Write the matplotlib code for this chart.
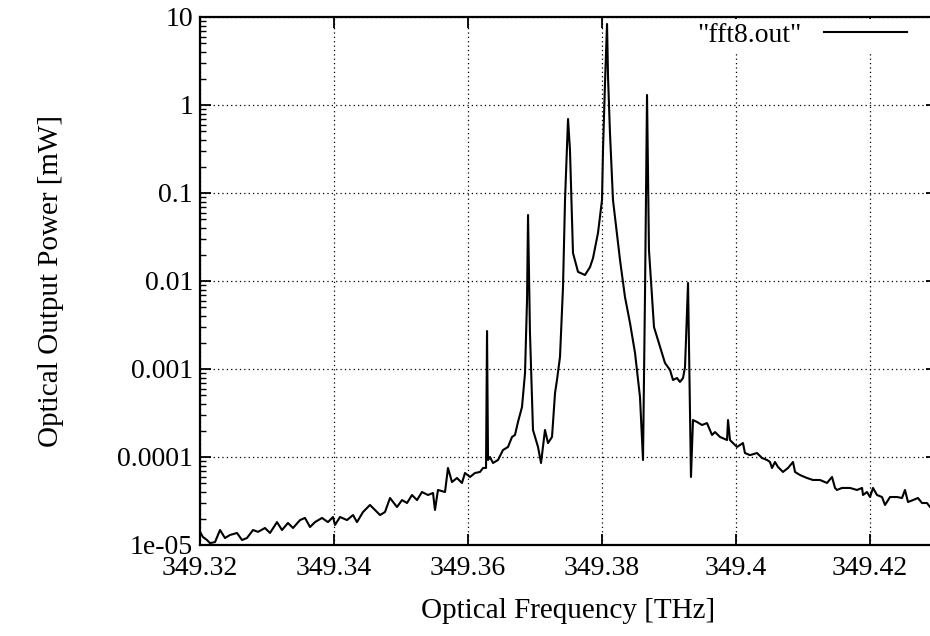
import numpy as np
import matplotlib.pyplot as plt
from matplotlib.ticker import FixedLocator, LogLocator, NullFormatter, NullLocator

plt.rcParams['font.family'] = ['Liberation Serif', 'DejaVu Serif']

# optical spectrum (THz, mW)
freq = [
    349.32000, 349.32045, 349.32104, 349.32149, 349.32224, 349.32299, 349.32373, 349.32448,
    349.32552, 349.32627, 349.32701, 349.32791, 349.32866, 349.32970, 349.33045, 349.33149,
    349.33224, 349.33313, 349.33388, 349.33493, 349.33567, 349.33642, 349.33716, 349.33821,
    349.33910, 349.33985, 349.34015, 349.34090, 349.34194, 349.34284, 349.34343, 349.34433,
    349.34537, 349.34612, 349.34687, 349.34761, 349.34836, 349.34940, 349.35015, 349.35090,
    349.35164, 349.35239, 349.35313, 349.35403, 349.35478, 349.35507, 349.35552, 349.35657,
    349.35701, 349.35761, 349.35836, 349.35910, 349.35955, 349.36030, 349.36104, 349.36179,
    349.36224, 349.36269, 349.36284, 349.36299, 349.36328, 349.36373, 349.36448, 349.36522,
    349.36597, 349.36657, 349.36701, 349.36746, 349.36806, 349.36851, 349.36881, 349.36896,
    349.36925, 349.36970, 349.37045, 349.37090, 349.37149, 349.37194, 349.37254, 349.37299,
    349.37328, 349.37373, 349.37418, 349.37448, 349.37493, 349.37522, 349.37552, 349.37567,
    349.37642, 349.37746, 349.37821, 349.37866, 349.37940, 349.38000, 349.38015, 349.38045,
    349.38075, 349.38090, 349.38119, 349.38164, 349.38269, 349.38343, 349.38418, 349.38493,
    349.38567, 349.38612, 349.38642, 349.38672, 349.38701, 349.38776, 349.38866, 349.38940,
    349.39015, 349.39060, 349.39119, 349.39164, 349.39209, 349.39239, 349.39284, 349.39328,
    349.39358, 349.39418, 349.39493, 349.39567, 349.39642, 349.39687, 349.39761, 349.39866,
    349.39881, 349.39910, 349.39955, 349.40015, 349.40104, 349.40134, 349.40209, 349.40313,
    349.40388, 349.40463, 349.40507, 349.40537, 349.40582, 349.40627, 349.40701, 349.40776,
    349.40851, 349.40881, 349.40955, 349.41060, 349.41149, 349.41254, 349.41358, 349.41433,
    349.41478, 349.41507, 349.41582, 349.41701, 349.41806, 349.41881, 349.41896, 349.41955,
    349.42000, 349.42045, 349.42104, 349.42179, 349.42224, 349.42299, 349.42403, 349.42478,
    349.42522, 349.42567, 349.42642, 349.42716, 349.42776, 349.42851, 349.42896, 349.42970,
]
power = [
    1.41e-5, 1.23e-5, 1.14e-5, 1.05e-5, 1.08e-5, 1.48e-5, 1.20e-5, 1.30e-5,
    1.37e-5, 1.14e-5, 1.20e-5, 1.48e-5, 1.41e-5, 1.56e-5, 1.37e-5, 1.82e-5,
    1.48e-5, 1.78e-5, 1.56e-5, 1.92e-5, 2.03e-5, 1.60e-5, 1.82e-5, 2.03e-5,
    1.82e-5, 2.08e-5, 1.69e-5, 2.08e-5, 1.92e-5, 2.19e-5, 1.82e-5, 2.37e-5,
    2.85e-5, 2.50e-5, 2.19e-5, 2.37e-5, 3.42e-5, 2.70e-5, 3.24e-5, 3.00e-5,
    3.70e-5, 3.24e-5, 4.00e-5, 3.70e-5, 3.90e-5, 2.50e-5, 4.22e-5, 4.00e-5,
    7.50e-5, 5.20e-5, 5.77e-5, 5.07e-5, 6.58e-5, 5.93e-5, 6.58e-5, 6.76e-5,
    7.50e-5, 7.50e-5, 2.70e-3, 9.25e-5, 1.00e-4, 8.55e-5, 9.25e-5, 1.20e-4,
    1.30e-4, 1.69e-4, 1.78e-4, 2.50e-4, 3.70e-4, 9.00e-4, 6.08e-3, 5.62e-2,
    2.57e-3, 2.03e-4, 1.30e-4, 8.55e-5, 2.03e-4, 1.44e-4, 1.69e-4, 5.34e-4,
    7.50e-4, 1.37e-3, 8.55e-3, 8.32e-2, 0.693, 0.308, 5.34e-2, 2.08e-2,
    1.27e-2, 1.17e-2, 1.44e-2, 1.82e-2, 3.51e-2, 8.32e-2, 0.308, 1.78,
    8.33, 2.08, 0.481, 8.32e-2, 1.73e-2, 6.58e-3, 3.33e-3, 1.52e-3,
    4.80e-4, 9.25e-5, 7.31e-3, 1.30, 2.25e-2, 3.00e-3, 1.78e-3, 1.17e-3,
    9.75e-4, 7.50e-4, 7.90e-4, 7.12e-4, 7.90e-4, 1.05e-3, 9.49e-3, 5.93e-5,
    2.63e-4, 2.50e-4, 2.31e-4, 2.43e-4, 1.78e-4, 1.92e-4, 1.69e-4, 1.56e-4,
    2.63e-4, 1.56e-4, 1.44e-4, 1.30e-4, 1.44e-4, 1.11e-4, 1.05e-4, 1.11e-4,
    9.75e-5, 9.25e-5, 8.78e-5, 7.50e-5, 8.78e-5, 7.70e-5, 6.76e-5, 7.50e-5,
    8.78e-5, 6.76e-5, 6.24e-5, 5.77e-5, 5.48e-5, 5.48e-5, 5.07e-5, 5.93e-5,
    4.45e-5, 4.22e-5, 4.45e-5, 4.45e-5, 4.22e-5, 4.45e-5, 3.70e-5, 4.00e-5,
    3.51e-5, 4.45e-5, 3.70e-5, 3.51e-5, 2.85e-5, 3.51e-5, 3.51e-5, 3.42e-5,
    4.22e-5, 3.08e-5, 3.24e-5, 3.42e-5, 3.00e-5, 3.00e-5, 2.70e-5, 2.85e-5,
]

xticks = [349.32, 349.34, 349.36, 349.38, 349.40, 349.42]
xtick_labels = ['349.32', '349.34', '349.36', '349.38', '349.4', '349.42']
yticks = [1e-5, 1e-4, 1e-3, 1e-2, 1e-1, 1, 10]
ytick_labels = ['1e-05', '0.0001', '0.001', '0.01', '0.1', '1', '10']

fig = plt.figure(figsize=(9.3, 6.36), dpi=100)
ax = fig.add_axes([200/930, 91/636, 737/930, 528/636])

ax.plot(freq, power, color='black', lw=1.5, label='"fft8.out"')

ax.set_yscale('log')
ax.set_xlim(349.32, 349.43)
ax.set_ylim(1e-5, 10)

ax.xaxis.set_major_locator(FixedLocator(xticks))
ax.set_xticklabels(xtick_labels)
ax.xaxis.set_minor_locator(NullLocator())
ax.yaxis.set_major_locator(FixedLocator(yticks))
ax.set_yticklabels(ytick_labels)
ax.yaxis.set_minor_locator(LogLocator(base=10, subs=np.arange(2, 10)))
ax.yaxis.set_minor_formatter(NullFormatter())

ax.tick_params(which='both', direction='in', top=True, right=True, labelsize=20)
ax.tick_params(which='major', length=8, width=1.3)
ax.tick_params(which='minor', length=4, width=1.0)
ax.tick_params(axis='x', pad=8)
ax.tick_params(axis='y', pad=5)

ax.grid(True, which='major', color='black', linestyle=(0, (1, 2.5)), linewidth=0.9)
for s in ax.spines.values():
    s.set_linewidth(1.6)

ax.set_xlabel('Optical Frequency [THz]', fontsize=21, labelpad=12)
ax.set_ylabel('Optical Output Power [mW]', fontsize=21, labelpad=38)

leg = ax.legend(loc='upper right', bbox_to_anchor=(0.965, 0.997), markerfirst=False,
                handlelength=3.0, handletextpad=0.8, fontsize=20, frameon=True,
                fancybox=False, borderaxespad=0.0, borderpad=0.15)
leg.get_frame().set_facecolor('white')
leg.get_frame().set_edgecolor('none')
leg.get_frame().set_alpha(1)

fig.savefig('out.png', dpi=100)
